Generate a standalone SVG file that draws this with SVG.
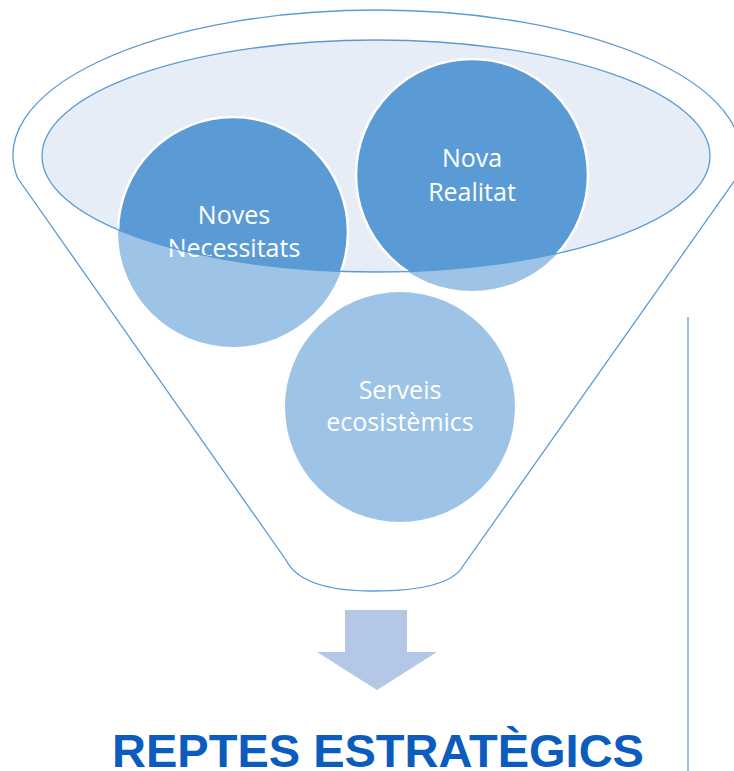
<svg xmlns="http://www.w3.org/2000/svg" width="734" height="771" viewBox="0 0 734 771">
<style>
.funnel{fill:none;stroke:#5B9BD5;stroke-width:1.3}
.ell{fill:#E6EDF7;stroke:none}
.ellline{fill:none;stroke:#5B9BD5;stroke-width:1.3}
.light{fill:#9DC3E6}
.dark{fill:#5B9BD5;stroke:#FFFFFF;stroke-width:2.5}
.lbl{font-family:"Open Sans","Noto Sans",sans-serif;font-size:25px;fill:#FFFFFF;text-anchor:middle}
.title{font-family:"Liberation Sans",Arial,sans-serif;font-weight:bold;font-size:47px;fill:#0B5CBD;text-anchor:middle}
</style>
<defs>
<clipPath id="ellclip"><ellipse cx="376" cy="156" rx="334" ry="116"/></clipPath>
</defs>
<g id="funnel">
<path class="funnel" d="M17.6,178 A364,145 0 1 1 736.4,178 L463,566 C455,580 430,591 373,591 C320,591 295,578 286,560 Z"/>
<ellipse class="ell" cx="376" cy="156" rx="334" ry="116"/>
</g>
<g id="node-noves">
<circle class="light" cx="233" cy="232" r="115"/>
<circle class="dark" cx="233" cy="232" r="115" clip-path="url(#ellclip)"/>
<text class="lbl" x="234" y="224">Noves</text>
<text class="lbl" x="234" y="257">Necessitats</text>
</g>
<g id="node-nova">
<circle class="light" cx="472" cy="175" r="116"/>
<circle class="dark" cx="472" cy="175" r="116" clip-path="url(#ellclip)"/>
<text class="lbl" x="472" y="167">Nova</text>
<text class="lbl" x="472" y="201">Realitat</text>
</g>
<g id="node-serveis">
<circle class="light" cx="400" cy="407" r="115"/>
<text class="lbl" x="400" y="399">Serveis</text>
<text class="lbl" x="400" y="431">ecosistèmics</text>
</g>
<ellipse class="ellline" cx="376" cy="156" rx="334" ry="116"/>
<g id="connectors">
<polygon points="345,610 407,610 407,652 437,652 377,690 317,652 345,652" fill="#B4C7E7"/>
</g>
<g id="title">
<text class="title" x="378" y="767">REPTES ESTRATÈGICS</text>
</g>
<line x1="688" y1="317" x2="688" y2="771" stroke="#7EA6DA" stroke-width="1.5"/>
</svg>
